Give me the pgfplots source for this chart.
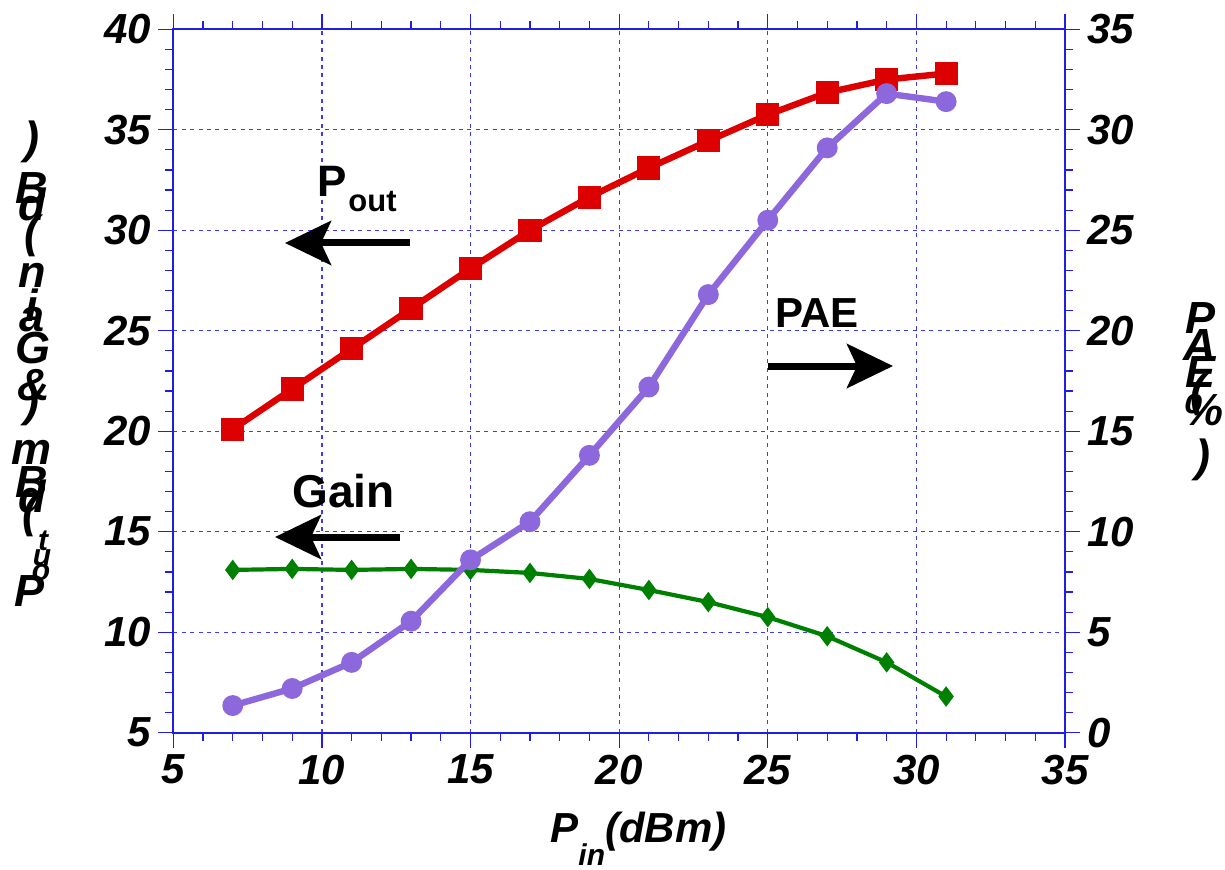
\documentclass[border=0pt]{standalone}
\usepackage{fontspec}
\setmainfont{Liberation Sans}
\usepackage{pgfplots}
\pgfplotsset{compat=1.18}
\usetikzlibrary{arrows.meta}
\definecolor{axblue}{RGB}{30,30,230}
\definecolor{gridblue}{RGB}{60,60,240}
\definecolor{pred}{RGB}{220,0,0}
\definecolor{ppur}{RGB}{140,104,220}
\definecolor{pgreen}{RGB}{0,128,0}
\newcommand{\tf}{\fontsize{21}{21}\selectfont\bfseries\itshape}
\newcommand{\lf}{\fontsize{22.5}{22.5}\selectfont\bfseries\itshape}
\newcommand{\smf}{\fontsize{15}{15}\selectfont\bfseries\itshape}
\newcommand{\PX}[2]{({((#1)-173.3)*0.5pt},{(732.7-(#2))*0.5pt})}
\newcommand{\ch}[3]{\node[inner sep=0pt,font=\lf] at \PX{#1}{#2} {#3};}
\newcommand{\chs}[3]{\node[inner sep=0pt,font=\smf] at \PX{#1}{#2} {#3};}
\begin{document}
\begin{tikzpicture}
\begin{axis}[
 at={(0,0)}, anchor=south west,
 scale only axis, width=445.85pt, height=351.7pt,
 xmin=5, xmax=35, ymin=5, ymax=40,
 xtick={5,10,...,35}, ytick={5,10,...,40},
 minor x tick num=4, minor y tick num=4,
 tick align=outside, major tick length=7.5pt, minor tick length=4pt,
 ytick pos=left, xtick pos=both, xticklabel pos=lower,
 axis line style={axblue, line width=0.8pt},
 tick style={axblue, line width=0.6pt},
 grid=major, major grid style={gridblue, dash pattern=on 2pt off 2.2pt, line width=0.6pt},
 tick label style={font=\tf, black},
 /pgf/number format/assume math mode=true,
 clip=false,
]
\addplot[pgreen, line width=2.1pt, mark=diamond*, mark size=3.4pt, mark options={solid}] coordinates {
(7,13.1)(9,13.15)(11,13.1)(13,13.15)(15,13.1)(17,12.95)(19,12.65)(21,12.1)(23,11.5)(25,10.75)(27,9.8)(29,8.5)(31,6.8)};
\addplot[pred, line width=3.2pt, mark=square*, mark size=4.2pt, mark options={solid}] coordinates {
(7,20.1)(9,22.1)(11,24.1)(13,26.1)(15,28.1)(17,30.0)(19,31.65)(21,33.1)(23,34.45)(25,35.75)(27,36.85)(29,37.5)(31,37.8)};
\end{axis}
\begin{axis}[
 at={(0,0)}, anchor=south west,
 scale only axis, width=445.85pt, height=351.7pt,
 xmin=5, xmax=35, ymin=0, ymax=35,
 axis x line=none, axis y line*=right,
 ytick={0,5,...,35}, minor y tick num=4,
 tick align=outside, major tick length=7.5pt, minor tick length=4pt,
 axis line style={axblue, line width=0.8pt, -},
 tick style={axblue, line width=0.6pt},
 tick label style={font=\tf, black},
 /pgf/number format/assume math mode=true,
 clip=false,
]
\addplot[ppur, line width=3.2pt, mark=*, mark size=3.6pt, mark options={solid}] coordinates {
(7,1.35)(9,2.2)(11,3.5)(13,5.55)(15,8.6)(17,10.5)(19,13.8)(21,17.2)(23,21.8)(25,25.5)(27,29.1)(29,31.8)(31,31.4)};
\end{axis}
% annotations
\node[anchor=base west, inner sep=0pt, font=\fontsize{22}{22}\selectfont\bfseries] at \PX{317}{197} {P};
\node[anchor=base west, inner sep=0pt, font=\fontsize{15.5}{15.5}\selectfont\bfseries] at \PX{348}{212} {out};
\node[anchor=base west, inner sep=0pt, font=\fontsize{21}{21}\selectfont\bfseries] at \PX{775}{327} {PAE};
\node[anchor=base west, inner sep=0pt, font=\fontsize{23}{23}\selectfont\bfseries] at \PX{292}{507} {Gain};
\draw[line width=3.5pt, -{Stealth[length=23pt,width=22pt,inset=5pt]}] \PX{410}{243} -- \PX{285}{243};
\draw[line width=3.5pt, -{Stealth[length=23pt,width=22pt,inset=5pt]}] \PX{400}{537} -- \PX{275}{537};
\draw[line width=3.5pt, -{Stealth[length=23pt,width=22pt,inset=5pt]}] \PX{768}{366} -- \PX{893}{366};
% x label
\node[anchor=base west, inner sep=0pt, font=\tf] at \PX{550}{842} {P\raisebox{-11.5pt}{\smf in}(dBm)};
% left stacked label
\ch{30}{591}{P}
\chs{41}{573}{o}
\chs{42}{558}{u}
\chs{43}{541}{t}
\ch{30}{516}{(}
\ch{32}{496}{d}
\ch{32}{482}{B}
\ch{32}{452}{m}
\ch{32}{405}{)}
\ch{34}{385}{\&}
\ch{33}{348}{G}
\ch{32}{320}{a}
\ch{32}{305}{i}
\ch{32}{275}{n}
\ch{32}{236}{(}
\ch{32}{204}{d}
\ch{32}{188}{B}
\ch{32}{142}{)}
% right stacked label
\ch{1200}{318}{P}
\ch{1200}{345}{A}
\ch{1200}{372}{E}
\ch{1198}{395}{(}
\ch{1203}{410}{\%}
\ch{1203}{460}{)}
\pgfresetboundingbox
\useasboundingbox (-86.65pt,-68.15pt) rectangle (525.85pt,366.35pt);
\end{tikzpicture}
\end{document}
